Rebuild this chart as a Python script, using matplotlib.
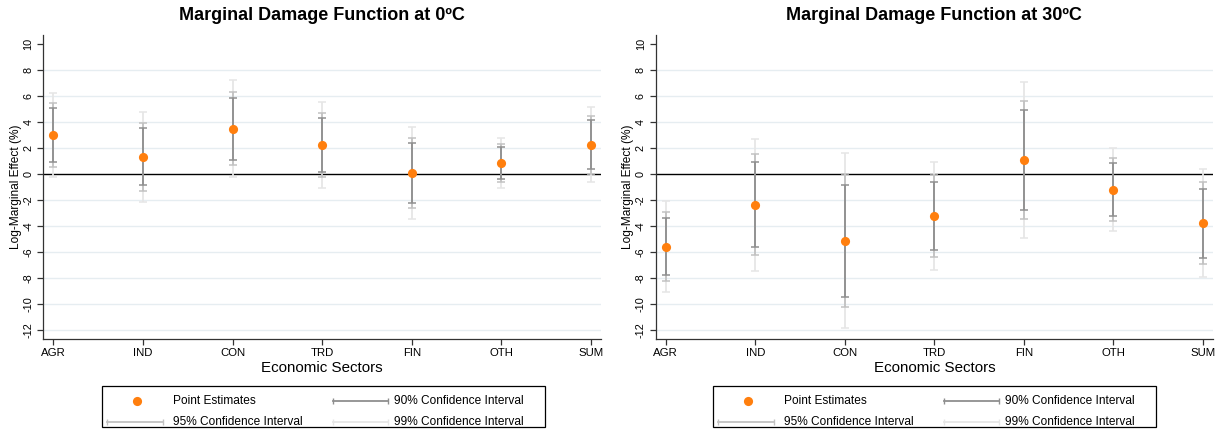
import matplotlib
matplotlib.use("Agg")
import matplotlib.pyplot as plt
from matplotlib.lines import Line2D
from matplotlib.patches import Rectangle
import numpy as np

plt.rcParams['font.family'] = ['Liberation Sans', 'DejaVu Sans']

sectors = ["AGR", "IND", "CON", "TRD", "FIN", "OTH", "SUM"]

# point estimates and (low, high) bounds of each confidence band, 0ºC
est_0 = [2.97, 1.31, 3.49, 2.21, 0.10, 0.85, 2.23]
ci90_0 = [(0.90, 5.08), (-0.87, 3.51), (1.10, 5.87), (0.13, 4.28), (-2.21, 2.36), (-0.38, 2.05), (0.38, 4.13)]
ci95_0 = [(0.51, 5.49), (-1.31, 3.95), (0.67, 6.33), (-0.26, 4.72), (-2.64, 2.79), (-0.62, 2.28), (0.00, 4.46)]
ci99_0 = [(-0.26, 6.26), (-2.13, 4.79), (-0.23, 7.23), (-1.05, 5.51), (-3.49, 3.64), (-1.08, 2.74), (-0.64, 5.15)]

# same for 30ºC
est_30 = [-5.59, -2.38, -5.13, -3.23, 1.08, -1.21, -3.79]
ci90_30 = [(-7.79, -3.36), (-5.62, 0.90), (-9.44, -0.82), (-5.87, -0.59), (-2.77, 4.90), (-3.23, 0.82), (-6.44, -1.15)]
ci95_30 = [(-8.21, -2.92), (-6.23, 1.51), (-10.26, 0.00), (-6.38, -0.08), (-3.49, 5.64), (-3.62, 1.23), (-6.92, -0.64)]
ci99_30 = [(-9.05, -2.10), (-7.44, 2.72), (-11.87, 1.62), (-7.36, 0.90), (-4.95, 7.08), (-4.38, 2.00), (-7.92, 0.36)]

titles = ["Marginal Damage Function at 0\u00baC", "Marginal Damage Function at 30\u00baC"]
yticks = np.arange(-12, 11, 2)

c90, c95, c99 = "#8f8f8f", "#c2c2c2", "#e6e6e6"
orange = "#ff7f0e"

W, H = 1217, 437
fig = plt.figure(figsize=(W / 100, H / 100), dpi=100)
ax_bottom, ax_height = 0.2236, 0.6963
axes = [fig.add_axes([0.0356, ax_bottom, 0.4583, ax_height]),
        fig.add_axes([0.5388, ax_bottom, 0.4579, ax_height])]
legend_left = [102, 713]


def fx(x):
    return x / W


def fy(y):
    return 1 - y / H


def draw_band(ax, x, bounds, color, lw):
    lo = np.array([b[0] for b in bounds])
    hi = np.array([b[1] for b in bounds])
    mid = (lo + hi) / 2
    ax.errorbar(x, mid, yerr=[mid - lo, hi - mid], fmt="none", ecolor=color,
                elinewidth=lw, capsize=3.2, capthick=1.1, zorder=3)


def legend_line(x0, x1, y, color):
    fig.add_artist(Line2D([fx(x0), fx(x1)], [fy(y), fy(y)], color=color, lw=1.3,
                          marker="|", ms=5, mew=1.0, transform=fig.transFigure))


def draw_legend(left):
    top, bottom = 386, 427
    fig.add_artist(Rectangle((fx(left), fy(bottom)), fx(443), (bottom - top) / H,
                             fill=False, ec="black", lw=0.9, transform=fig.transFigure))
    r1, r2 = 401, 422
    fig.add_artist(Line2D([fx(left + 35)], [fy(r1)], marker="o", color=orange, ms=6.6,
                          mec="none", ls="none", transform=fig.transFigure))
    legend_line(left + 231, left + 286, r1, c90)
    legend_line(left + 5, left + 61, r2, c95)
    legend_line(left + 231, left + 286, r2, c99)
    kw = dict(fontsize=8.6, va="center", ha="left")
    fig.text(fx(left + 71), fy(r1), "Point Estimates", **kw)
    fig.text(fx(left + 292), fy(r1), "90% Confidence Interval", **kw)
    fig.text(fx(left + 71), fy(r2), "95% Confidence Interval", **kw)
    fig.text(fx(left + 292), fy(r2), "99% Confidence Interval", **kw)


panels = [(est_0, ci90_0, ci95_0, ci99_0), (est_30, ci90_30, ci95_30, ci99_30)]

for i, ax in enumerate(axes):
    est, ci90, ci95, ci99 = panels[i]
    x = np.arange(len(sectors))

    for t in yticks[:-1]:
        if t != 0:
            ax.axhline(t, color="#e6edf1", lw=1.0, zorder=1)
    ax.axhline(0, color="black", lw=1.0, zorder=2)

    draw_band(ax, x, ci99, c99, 1.3)
    draw_band(ax, x, ci95, c95, 1.3)
    draw_band(ax, x, ci90, c90, 1.3)
    ax.plot(x, est, "o", color=orange, ms=6.6, mec="none", zorder=5)

    ax.set_xlim(-0.112, 6.112)
    ax.set_ylim(-12.72, 10.69)
    ax.set_xticks(x)
    ax.set_xticklabels(sectors, fontsize=8.2)
    ax.set_yticks(yticks)
    ax.set_yticklabels([str(t) for t in yticks], fontsize=7.8, rotation=90, va="center")
    ax.tick_params(axis="both", length=4, width=0.9, color="#333333")
    ax.tick_params(axis="x", pad=2)
    ax.tick_params(axis="y", pad=3)
    for s in ["top", "right"]:
        ax.spines[s].set_visible(False)
    for s in ["left", "bottom"]:
        ax.spines[s].set_linewidth(0.9)
        ax.spines[s].set_color("#333333")

    ax.set_xlabel("Economic Sectors", fontsize=10.9)
    ax.xaxis.set_label_coords(0.5, -0.071)
    ax.set_ylabel("Log-Marginal Effect (%)", fontsize=8.6)
    ax.yaxis.set_label_coords(-0.039, 0.5)

    ax.set_title(titles[i], fontsize=13, fontweight="bold", va="center", pad=0,
                 y=(fy(15) - ax_bottom) / ax_height)
    draw_legend(legend_left[i])

fig.savefig("out.png", dpi=100)
